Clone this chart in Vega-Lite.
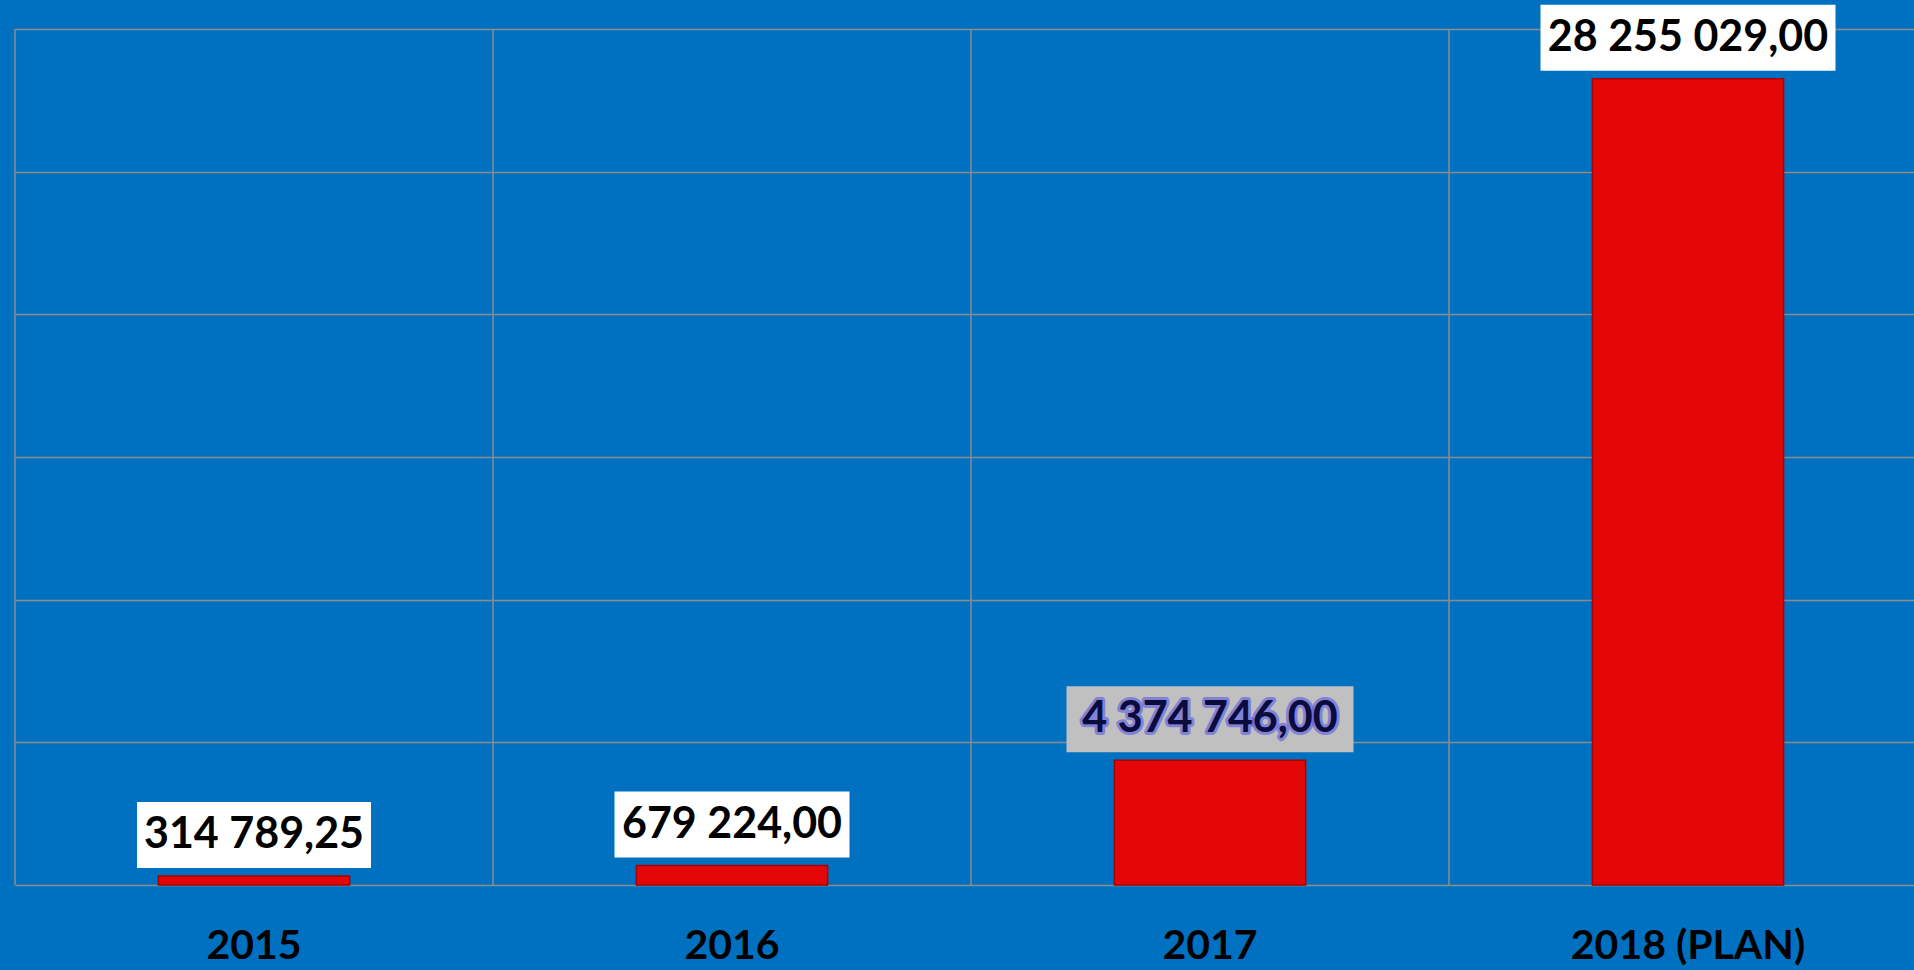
{
  "$schema": "https://vega.github.io/schema/vega-lite/v6.json",
  "autosize": {"type": "none"},
  "width": 1899,
  "height": 856,
  "padding": {"left": 15, "top": 29, "right": 0, "bottom": 85},
  "background": "#0070c0",
  "config": {"view": {"stroke": null}, "font": "Lato"},
  "data": {
    "values": [
      {"year": "2015", "value": 314789.25, "label": "314 789,25"},
      {"year": "2016", "value": 679224.00, "label": "679 224,00"},
      {"year": "2017", "value": 4374746.00, "label": "4 374 746,00"},
      {"year": "2018 (PLAN)", "value": 28255029.00, "label": "28 255 029,00"}
    ]
  },
  "encoding": {
    "x": {
      "field": "year", "type": "nominal", "sort": null,
      "scale": {"range": [0, 1912], "paddingInner": 0, "paddingOuter": 0},
      "axis": {
        "title": null, "grid": false, "ticks": false, "domain": false,
        "labelAngle": 0, "labelFont": "Lato", "labelFontSize": 41, "labelFontWeight": "bold",
        "labelColor": "#000000", "labelBaseline": "middle", "labelPadding": 61, "labelLimit": 0
      }
    }
  },
  "layer": [
    {
      "mark": {"type": "rule", "color": "#8c8c8c", "strokeWidth": 1.5},
      "encoding": {"x": {"field": "year", "type": "nominal", "sort": null, "bandPosition": 0}}
    },
    {
      "mark": {"type": "bar", "width": {"band": 0.4}, "color": "#e30606", "stroke": "#a80000", "strokeWidth": 1.5},
      "encoding": {
        "y": {
          "field": "value", "type": "quantitative",
          "scale": {"domain": [0, 30000000], "nice": false},
          "axis": {
            "title": null, "labels": false, "ticks": false, "domain": false,
            "grid": true, "gridColor": "#8c8c8c", "gridWidth": 1.5, "gridOpacity": 1,
            "values": [0, 5000000, 10000000, 15000000, 20000000, 25000000, 30000000]
          }
        }
      }
    },
    {
      "mark": {"type": "bar", "yOffset": -74, "y2Offset": -8},
      "encoding": {
        "y": {"field": "value", "type": "quantitative"},
        "y2": {"field": "value"},
        "size": {"field": "year", "type": "nominal", "sort": null, "scale": {"type": "ordinal", "range": [234, 235, 287, 295]}, "legend": null},
        "color": {"field": "year", "type": "nominal", "sort": null, "scale": {"range": ["#ffffff", "#ffffff", "#c0c0c0", "#ffffff"]}, "legend": null}
      }
    },
    {
      "transform": [{"filter": "datum.year == '2017'"}],
      "mark": {"type": "text", "dy": -41, "baseline": "middle", "align": "center", "font": "Lato", "fontSize": 43, "fontWeight": "bold", "stroke": "#5a5ae0", "strokeWidth": 6, "strokeOpacity": 0.6, "fill": "#5a5ae0", "strokeJoin": "round"},
      "encoding": {"y": {"field": "value", "type": "quantitative"}, "text": {"field": "label"}}
    },
    {
      "mark": {"type": "text", "dy": -41, "baseline": "middle", "align": "center", "font": "Lato", "fontSize": 43, "fontWeight": "bold"},
      "encoding": {
        "y": {"field": "value", "type": "quantitative"},
        "text": {"field": "label"},
        "color": {"field": "year", "type": "nominal", "sort": null, "scale": {"range": ["#000000", "#000000", "#0c0c3c", "#000000"]}, "legend": null}
      }
    }
  ],
  "resolve": {"scale": {"color": "independent"}}
}
